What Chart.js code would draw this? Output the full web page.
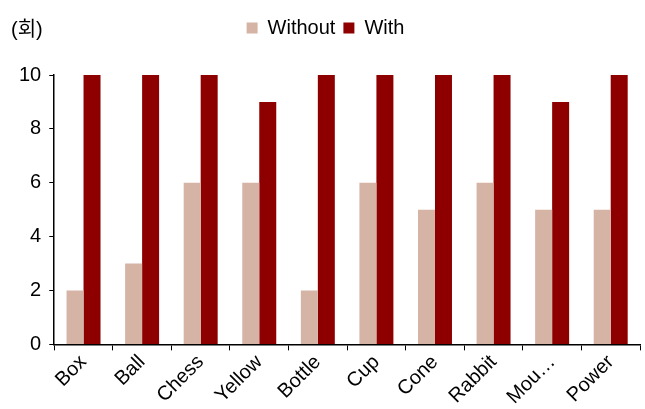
<!DOCTYPE html>
<html>
<head>
<meta charset="utf-8">
<script src="https://cdn.jsdelivr.net/npm/chart.js@4"></script>
<style>
  html, body { margin: 0; padding: 0; background: #fff; }
  #wrap { width: 645px; height: 409px; position: relative; }
</style>
</head>
<body>
<div id="wrap"><canvas id="c"></canvas></div>
<script>
const categories = ['Box', 'Ball', 'Chess', 'Yellow', 'Bottle', 'Cup', 'Cone', 'Rabbit', 'Mou…', 'Power'];
const withoutValues = [2, 3, 6, 6, 2, 6, 5, 6, 5, 5];
const withValues = [10, 10, 10, 9, 10, 10, 10, 10, 9, 10];
const yTicks = [0, 2, 4, 6, 8, 10];
const unitLabel = '(회)';

const FONT = '"Liberation Sans", Arial, "Noto Sans CJK KR", sans-serif';

// Unit caption drawn above the value axis
const unitPlugin = {
  id: 'unitLabel',
  afterDraw(chart) {
    const ctx = chart.ctx;
    ctx.save();
    ctx.font = '20px ' + FONT;
    ctx.fillStyle = '#000';
    ctx.textAlign = 'left';
    ctx.textBaseline = 'middle';
    ctx.fillText(unitLabel, 11, 30);
    ctx.restore();
  }
};

// Extra room between the legend and the plot
const legendGap = {
  id: 'legendGap',
  beforeInit(chart) {
    const fit = chart.legend.fit;
    chart.legend.fit = function () {
      fit.bind(chart.legend)();
      this.height += 27;
    };
  }
};

new Chart(document.getElementById('c'), {
  type: 'bar',
  data: {
    labels: categories,
    datasets: [
      { label: 'Without', data: withoutValues, backgroundColor: '#D5B3A5', barPercentage: 1, categoryPercentage: 0.58 },
      { label: 'With', data: withValues, backgroundColor: '#8E0000', barPercentage: 1, categoryPercentage: 0.58 }
    ]
  },
  options: {
    responsive: true,
    maintainAspectRatio: false,
    animation: false,
    layout: { padding: { top: 10, right: 5, left: 11, bottom: 0 } },
    plugins: {
      legend: {
        position: 'top',
        labels: {
          font: { size: 20, family: FONT },
          color: '#000',
          boxWidth: 11,
          boxHeight: 11,
          padding: 8
        }
      },
      tooltip: { enabled: false }
    },
    scales: {
      x: {
        grid: { drawOnChartArea: false, color: '#000', tickLength: 6, offset: true },
        border: { color: '#000', width: 1.5 },
        ticks: {
          color: '#000',
          font: { size: 20, family: FONT },
          minRotation: 45,
          maxRotation: 45,
          autoSkip: false,
          padding: 0
        }
      },
      y: {
        min: 0,
        max: 10,
        afterBuildTicks(axis) { axis.ticks = yTicks.map(v => ({ value: v })); },
        grid: { drawOnChartArea: false, color: '#000', tickLength: 5 },
        border: { color: '#000', width: 1.5 },
        ticks: {
          color: '#000',
          font: { size: 20, family: FONT },
          padding: 8
        }
      }
    }
  },
  plugins: [unitPlugin, legendGap]
});
</script>
</body>
</html>
